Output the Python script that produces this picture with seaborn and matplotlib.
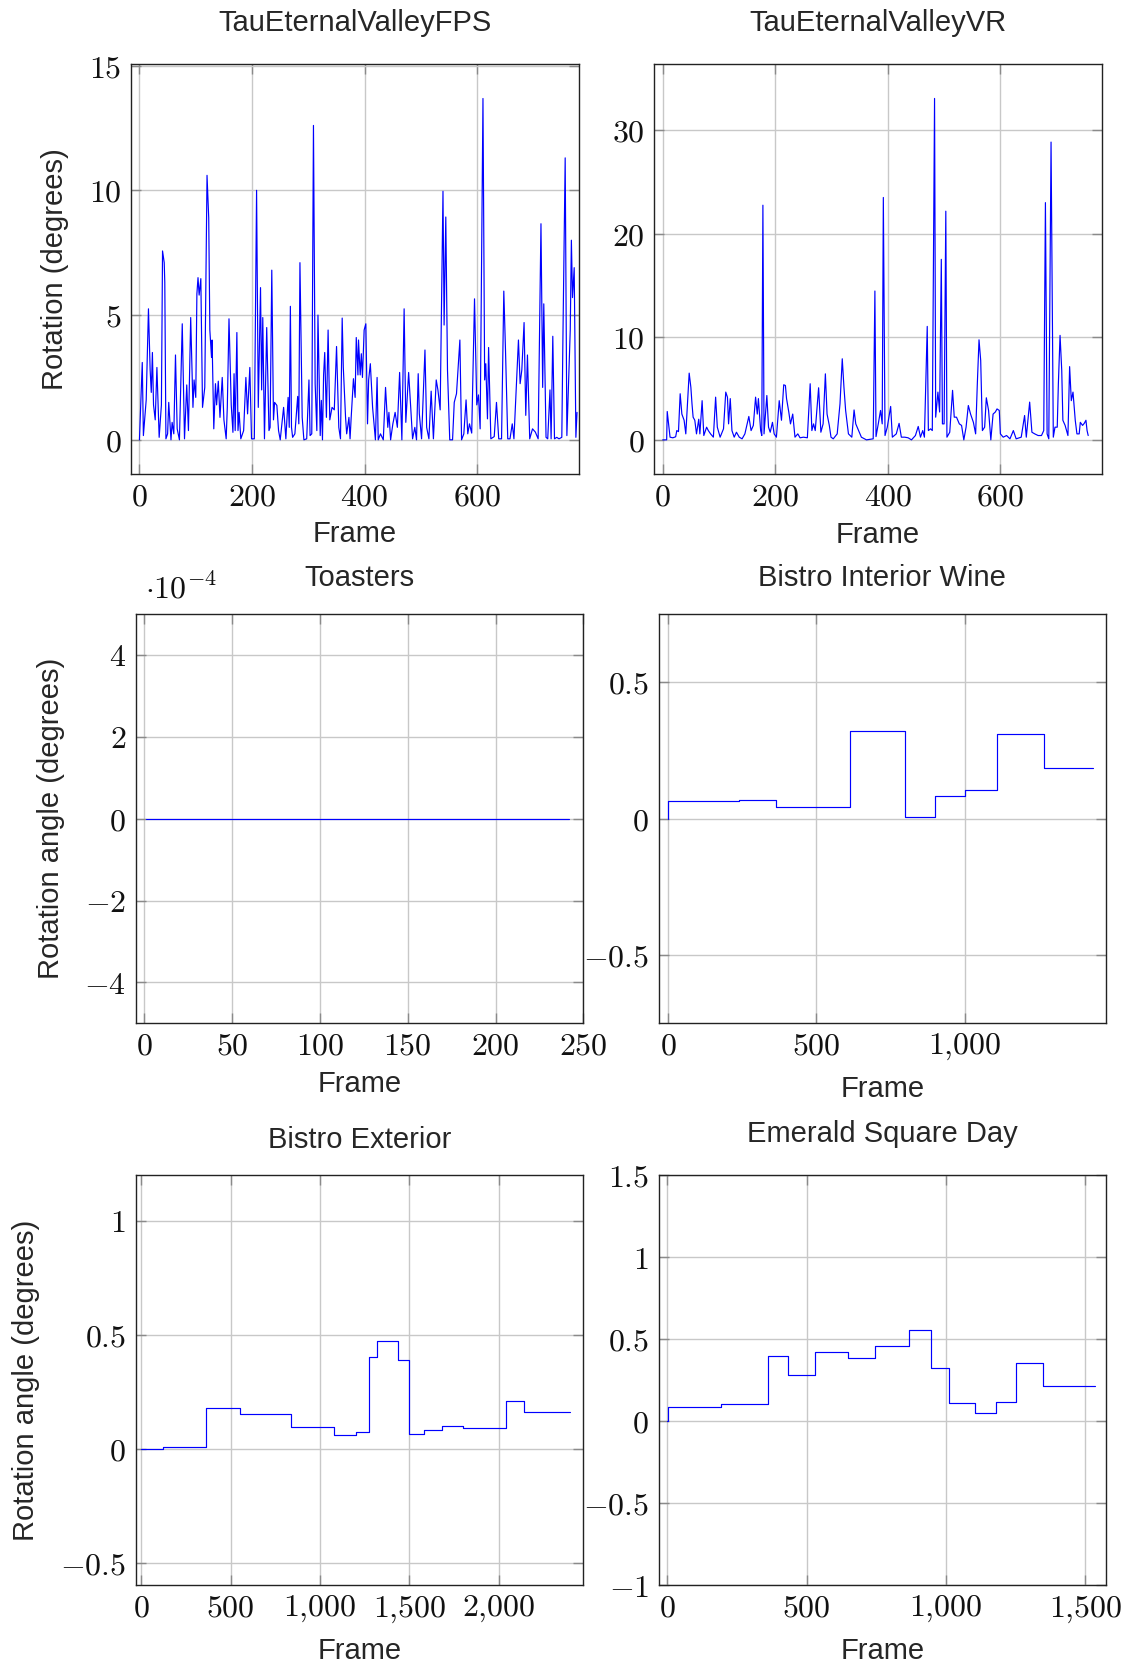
import seaborn as sns
from matplotlib import pyplot as plt
from matplotlib.ticker import FuncFormatter, FixedLocator

sns.set_theme(style="white")
plt.rcParams['font.family'] = ['Liberation Sans', 'DejaVu Sans']
plt.rcParams['mathtext.fontset'] = 'cm'

# TauEternalValleyFPS
fps_frame = [0, 5, 7, 12, 16, 19, 21, 23, 25, 28, 31, 35, 39, 41, 44, 45, 47, 50, 52, 56, 58, 61, 64, 67, 71,
             76, 80, 84, 87, 91, 95, 97, 100, 102, 104, 106, 109, 112, 116, 120, 123, 125, 128, 129, 132,
             135, 137, 140, 143, 147, 150, 154, 156, 159, 163, 166, 168, 170, 173, 175, 177, 180, 185, 189,
             192, 196, 199, 204, 208, 211, 215, 217, 219, 222, 226, 230, 232, 235, 238, 240, 244, 247, 250,
             256, 260, 264, 266, 268, 270, 272, 276, 281, 283, 285, 289, 292, 297, 301, 303, 306, 309, 312,
             315, 317, 321, 323, 325, 327, 329, 332, 335, 338, 342, 346, 350, 354, 357, 360, 362, 366, 368,
             372, 374, 376, 380, 383, 385, 388, 389, 392, 394, 396, 399, 402, 405, 407, 410, 414, 419, 422,
             424, 428, 433, 437, 441, 443, 446, 450, 454, 458, 462, 466, 470, 473, 478, 482, 485, 489, 492,
             495, 497, 501, 507, 510, 514, 518, 522, 527, 530, 534, 539, 541, 544, 547, 551, 556, 559, 563,
             569, 572, 576, 580, 583, 586, 590, 595, 599, 602, 605, 610, 613, 615, 618, 620, 624, 630, 634,
             638, 643, 647, 650, 654, 658, 662, 665, 673, 676, 679, 683, 686, 689, 693, 698, 703, 708, 713,
             716, 718, 722, 725, 729, 731, 734, 737, 741, 745, 750, 752, 756, 759, 765, 767, 769, 772, 775, 777]
fps_rot = [0, 3.1, 0.17, 1.6, 5.25, 2.8, 1.9, 3.5, 1.4, 0.8, 2.9, 0.1, 1.4, 7.57, 7.1, 6.3, 0.04, 0.24, 1.5, 0,
           0.7, 0.24, 3.4, 0.44, 0, 4.65, 0.04, 2.2, 0.37, 4.9, 1.3, 2.4, 1.7, 5.85, 6.5, 5.8, 6.46, 1.3, 2.1,
           10.6, 8.9, 4.4, 3.3, 4.0, 0.44, 2.25, 1.4, 2.35, 0.9, 2.5, 0.8, 0.04, 1.3, 4.85, 1.4, 0.3, 2.65,
           0.37, 4.3, 0.37, 1.1, 0.04, 0.37, 2.5, 1.04, 2.9, 0.04, 0.04, 10.0, 1.3, 6.1, 2.0, 4.9, 0.04, 4.5,
           0.37, 0.5, 6.8, 0.8, 1.5, 1.38, 0.37, 0, 1.3, 0.04, 1.7, 0.5, 5.35, 0.5, 0.1, 0.24, 1.74, 0.64, 7.1,
           0.9, 0, 0.04, 2.4, 0.17, 0.24, 12.6, 2.25, 0.37, 5.0, 0.17, 1.58, 0, 2.6, 3.5, 0.9, 4.4, 0.8, 1.3,
           1.2, 3.74, 0.5, 0.04, 4.88, 2.9, 0.9, 0.24, 0.9, 0.04, 0.9, 2.45, 1.7, 4.1, 2.6, 4.0, 2.6, 3.45, 2.5,
           4.4, 4.65, 0.64, 2.4, 3.05, 1.3, 0, 2.5, 0, 0.24, 0, 2.1, 0.5, 1.1, 0, 0.64, 1.1, 0.5, 2.7, 0, 5.25,
           0.7, 2.7, 1.2, 0.04, 0.5, 0, 2.65, 1.04, 0.04, 3.6, 0.5, 0.04, 1.95, 0.04, 2.4, 2.0, 1.2, 9.96, 4.6,
           8.93, 2.8, 0, 0, 1.5, 1.85, 4.0, 0, 0.24, 1.6, 0.24, 0.64, 0.27, 5.65, 1.4, 1.8, 0.44, 13.68, 2.4,
           3.05, 0.84, 3.7, 0.04, 0.13, 1.5, 0.04, 0.04, 5.96, 3.6, 0.04, 0.04, 0.64, 0.04, 4.0, 2.25, 2.8, 4.7,
           0.98, 3.4, 0.04, 0.44, 0.31, 0.04, 8.66, 2.1, 5.45, 0.1, 0.04, 2.0, 0.04, 4.15, 0.04, 0.1, 0.04, 0.1,
           4.1, 11.3, 0.17, 4.4, 8.0, 5.7, 6.9, 0.1, 1.1]

# TauEternalValleyVR
vr_frame = [0, 7, 8, 11, 13, 18, 23, 25, 28, 31, 34, 38, 41, 47, 50, 52, 54, 57, 60, 64, 66, 70, 73, 78, 81,
            85, 90, 94, 97, 102, 108, 112, 115, 117, 120, 123, 127, 131, 136, 141, 146, 153, 157, 161, 165,
            168, 170, 174, 176, 178, 180, 185, 188, 191, 195, 198, 202, 207, 211, 215, 218, 220, 224, 227,
            231, 235, 240, 244, 250, 257, 262, 265, 268, 271, 277, 281, 285, 289, 292, 296, 299, 303, 310,
            315, 319, 322, 325, 330, 336, 340, 343, 348, 353, 362, 374, 377, 379, 383, 387, 390, 392, 395,
            399, 405, 408, 415, 420, 424, 430, 436, 442, 449, 454, 458, 462, 465, 470, 472, 476, 479, 483,
            485, 489, 492, 495, 497, 500, 503, 505, 510, 515, 518, 522, 527, 531, 535, 539, 543, 547, 552,
            556, 559, 562, 565, 568, 572, 575, 579, 581, 583, 587, 591, 594, 598, 600, 605, 611, 617, 623,
            628, 637, 643, 646, 652, 656, 661, 667, 673, 677, 680, 683, 686, 690, 694, 697, 701, 703, 706,
            709, 711, 715, 720, 723, 726, 729, 733, 736, 740, 742, 746, 749, 752, 754, 756]
vr_rot = [0, 0, 2.75, 1.23, 0.26, 0.2, 0.3, 0.9, 0.8, 4.47, 2.5, 1.9, 0.58, 6.47, 5.1, 3.5, 2.2, 1.9, 0.58,
          2.0, 0.58, 3.8, 0.42, 1.23, 0.9, 0.58, 0.26, 4.14, 1.23, 0.26, 1.07, 4.63, 4.14, 1.55, 4.0, 0.9,
          0.26, 0.74, 0.26, 0.1, 0.58, 2.27, 0.9, 1.4, 4.14, 2.5, 4.0, 0.9, 0.42, 22.75, 0.58, 4.3, 1.23,
          0.74, 1.7, 0.58, 0.26, 3.8, 1.9, 5.34, 5.27, 4.0, 2.7, 1.55, 2.5, 0.26, 0.58, 0.2, 0.26, 0.2, 5.44,
          0.9, 1.55, 0.9, 5.05, 0.74, 1.55, 6.4, 2.5, 1.4, 0.26, 0.1, 0.58, 3.5, 7.86, 5.1, 2.85, 0.58, 0.26,
          2.9, 1.55, 0.9, 0.26, 0, 0.1, 14.43, 0.32, 1.55, 2.85, 1.55, 23.5, 0.42, 1.23, 3.24, 0.26, 0.58,
          1.6, 0.26, 0.26, 0.2, 0, 0.42, 1.3, 0.26, 0.9, 0.26, 11.0, 0.9, 1.07, 0.9, 33.1, 2.2, 4.63, 2.7,
          17.5, 1.55, 1.55, 22.17, 0.26, 0.74, 4.8, 2.2, 2.2, 1.55, 1.4, 0, 1.23, 3.33, 2.5, 1.7, 0.58, 5.44,
          9.7, 7.7, 0.9, 1.23, 4.08, 2.85, 1.4, 0, 2.5, 2.7, 3.0, 2.85, 0.58, 0.26, 0.42, 0.1, 0.9, 0.1, 0.26,
          2.36, 0.26, 3.66, 0.74, 0.58, 0.42, 0.42, 0.9, 23.0, 0.58, 0.1, 28.87, 0.26, 1.23, 1.23, 5.44,
          10.13, 6.73, 1.9, 1.4, 0.42, 7.1, 3.8, 4.63, 1.9, 0.58, 0.58, 1.7, 1.4, 1.6, 1.9, 0.9, 0.42]

# Toasters
toast_frame = [1, 242]
toast_rot = [0.0, 0.0]

# Bistro Interior Wine (constant segments)
wine_frame = [0, 2, 240, 365, 615, 711, 799, 899, 1001, 1109, 1267, 1431]
wine_rot = [0, 0.066, 0.0695, 0.041, 0.321, 0.320, 0.006, 0.084, 0.105, 0.311, 0.187, 0.187]

# Bistro Exterior
ext_frame = [0, 121, 360, 552, 840, 1080, 1200, 1276, 1321, 1438, 1498, 1580, 1681, 1800, 2039, 2140, 2397]
ext_rot = [0, 0.006, 0.177, 0.151, 0.094, 0.059, 0.073, 0.404, 0.473, 0.388, 0.066, 0.082, 0.101, 0.089,
           0.208, 0.161, 0.161]

# Emerald Square Day
em_frame = [0, 2, 194, 362, 433, 530, 650, 745, 866, 947, 1012, 1103, 1179, 1251, 1349, 1536]
em_rot = [0, 0.087, 0.108, 0.396, 0.283, 0.423, 0.384, 0.457, 0.555, 0.323, 0.112, 0.053, 0.120, 0.354,
          0.213, 0.213]

W, H = 1135, 1668
fig = plt.figure(figsize=(W / 100, H / 100), dpi=100)


def cm_formatter(scale=1.0, comma=False):
    def f(v, pos):
        v = v / scale
        if abs(v) < 1e-9:
            v = 0
        s = '%g' % v
        if comma and abs(v) >= 1000:
            s = '{:,.0f}'.format(v).replace(',', '{,}')
        return '$' + s + '$'
    return FuncFormatter(f)


def make_panel(box, x, y, title, title_y, xlim, ylim, xticks, yticks, xlabel_y,
               ylabel=None, ylabel_x=None, steps=False, yscale=1.0, comma=False):
    x0, y0, x1, y1 = box
    ax = fig.add_axes([x0 / W, 1 - y1 / H, (x1 - x0) / W, (y1 - y0) / H])
    bw, bh = x1 - x0, y1 - y0
    kw = dict(drawstyle='steps-post') if steps else {}
    sns.lineplot(x=x, y=y, ax=ax, color='#0000ff', linewidth=0.85, zorder=3, **kw)
    ax.set_xlim(*xlim)
    ax.set_ylim(*ylim)
    ax.xaxis.set_major_locator(FixedLocator(xticks))
    ax.yaxis.set_major_locator(FixedLocator(yticks))
    ax.xaxis.set_major_formatter(cm_formatter(comma=comma))
    ax.yaxis.set_major_formatter(cm_formatter(scale=yscale))
    ax.grid(True, color='#c8c8c8', linewidth=1.0, zorder=0)
    ax.set_axisbelow(True)
    ax.tick_params(direction='in', length=7.5, width=1.0, color='#8a8a8a',
                   top=True, right=True, bottom=True, left=True, labelsize=23,
                   labelcolor='#111111')
    ax.tick_params(axis='x', pad=6)
    ax.tick_params(axis='y', pad=7)
    for sp in ax.spines.values():
        sp.set_color('#222222')
        sp.set_linewidth(1.0)
        sp.set_visible(True)
    ax.set_title(title, fontsize=21, y=1 + (y0 - title_y) / bh, va='center', pad=0)
    ax.set_xlabel('Frame', fontsize=21, va='center')
    ax.xaxis.set_label_coords(0.5, -(xlabel_y - y1) / bh)
    if ylabel:
        ax.set_ylabel(ylabel, fontsize=21, va='center')
        ax.yaxis.set_label_coords(-(x0 - ylabel_x) / bw, 0.5)
    else:
        ax.set_ylabel('')
    return ax


make_panel((131, 64.3, 578.7, 474), fps_frame, fps_rot, 'TauEternalValleyFPS', 23.4,
           (-15, 780), (-1.37, 15.05), [0, 200, 400, 600], [0, 5, 10, 15], 534,
           ylabel='Rotation (degrees)', ylabel_x=55)

make_panel((654, 64.3, 1101.7, 474), vr_frame, vr_rot, 'TauEternalValleyVR', 23.4,
           (-15.5, 780), (-3.31, 36.41), [0, 200, 400, 600], [0, 10, 20, 30], 535)

ax3 = make_panel((135.6, 614, 583.3, 1023.3), toast_frame, toast_rot, 'Toasters', 577.6,
                 (-5, 250), (-5e-4, 5e-4), [0, 50, 100, 150, 200, 250],
                 [-4e-4, -2e-4, 0, 2e-4, 4e-4], 1084,
                 ylabel='Rotation angle (degrees)', ylabel_x=51, yscale=1e-4)
ax3.text(0.02, 1 + (614 - 589) / 409.3, r'$\cdot 10^{-4}$', transform=ax3.transAxes,
         ha='left', va='center', fontsize=23, color='#111111')

make_panel((658.7, 614, 1106, 1023.3), wine_frame, wine_rot, 'Bistro Interior Wine', 577.6,
           (-31, 1476), (-0.75, 0.75), [0, 500, 1000], [-0.5, 0, 0.5], 1089,
           steps=True, comma=True)

make_panel((135.7, 1175.3, 583.3, 1585.3), ext_frame, ext_rot, 'Bistro Exterior', 1140,
           (-32, 2474), (-0.6, 1.2), [0, 500, 1000, 1500, 2000], [-0.5, 0, 0.5, 1], 1651,
           ylabel='Rotation angle (degrees)', ylabel_x=26, steps=True, comma=True)

make_panel((658.7, 1175.3, 1106, 1585.3), em_frame, em_rot, 'Emerald Square Day', 1134,
           (-31, 1574), (-1, 1.5), [0, 500, 1000, 1500], [-1, -0.5, 0, 0.5, 1, 1.5], 1651,
           steps=True, comma=True)

fig.savefig('out.png', dpi=100, facecolor='white')
